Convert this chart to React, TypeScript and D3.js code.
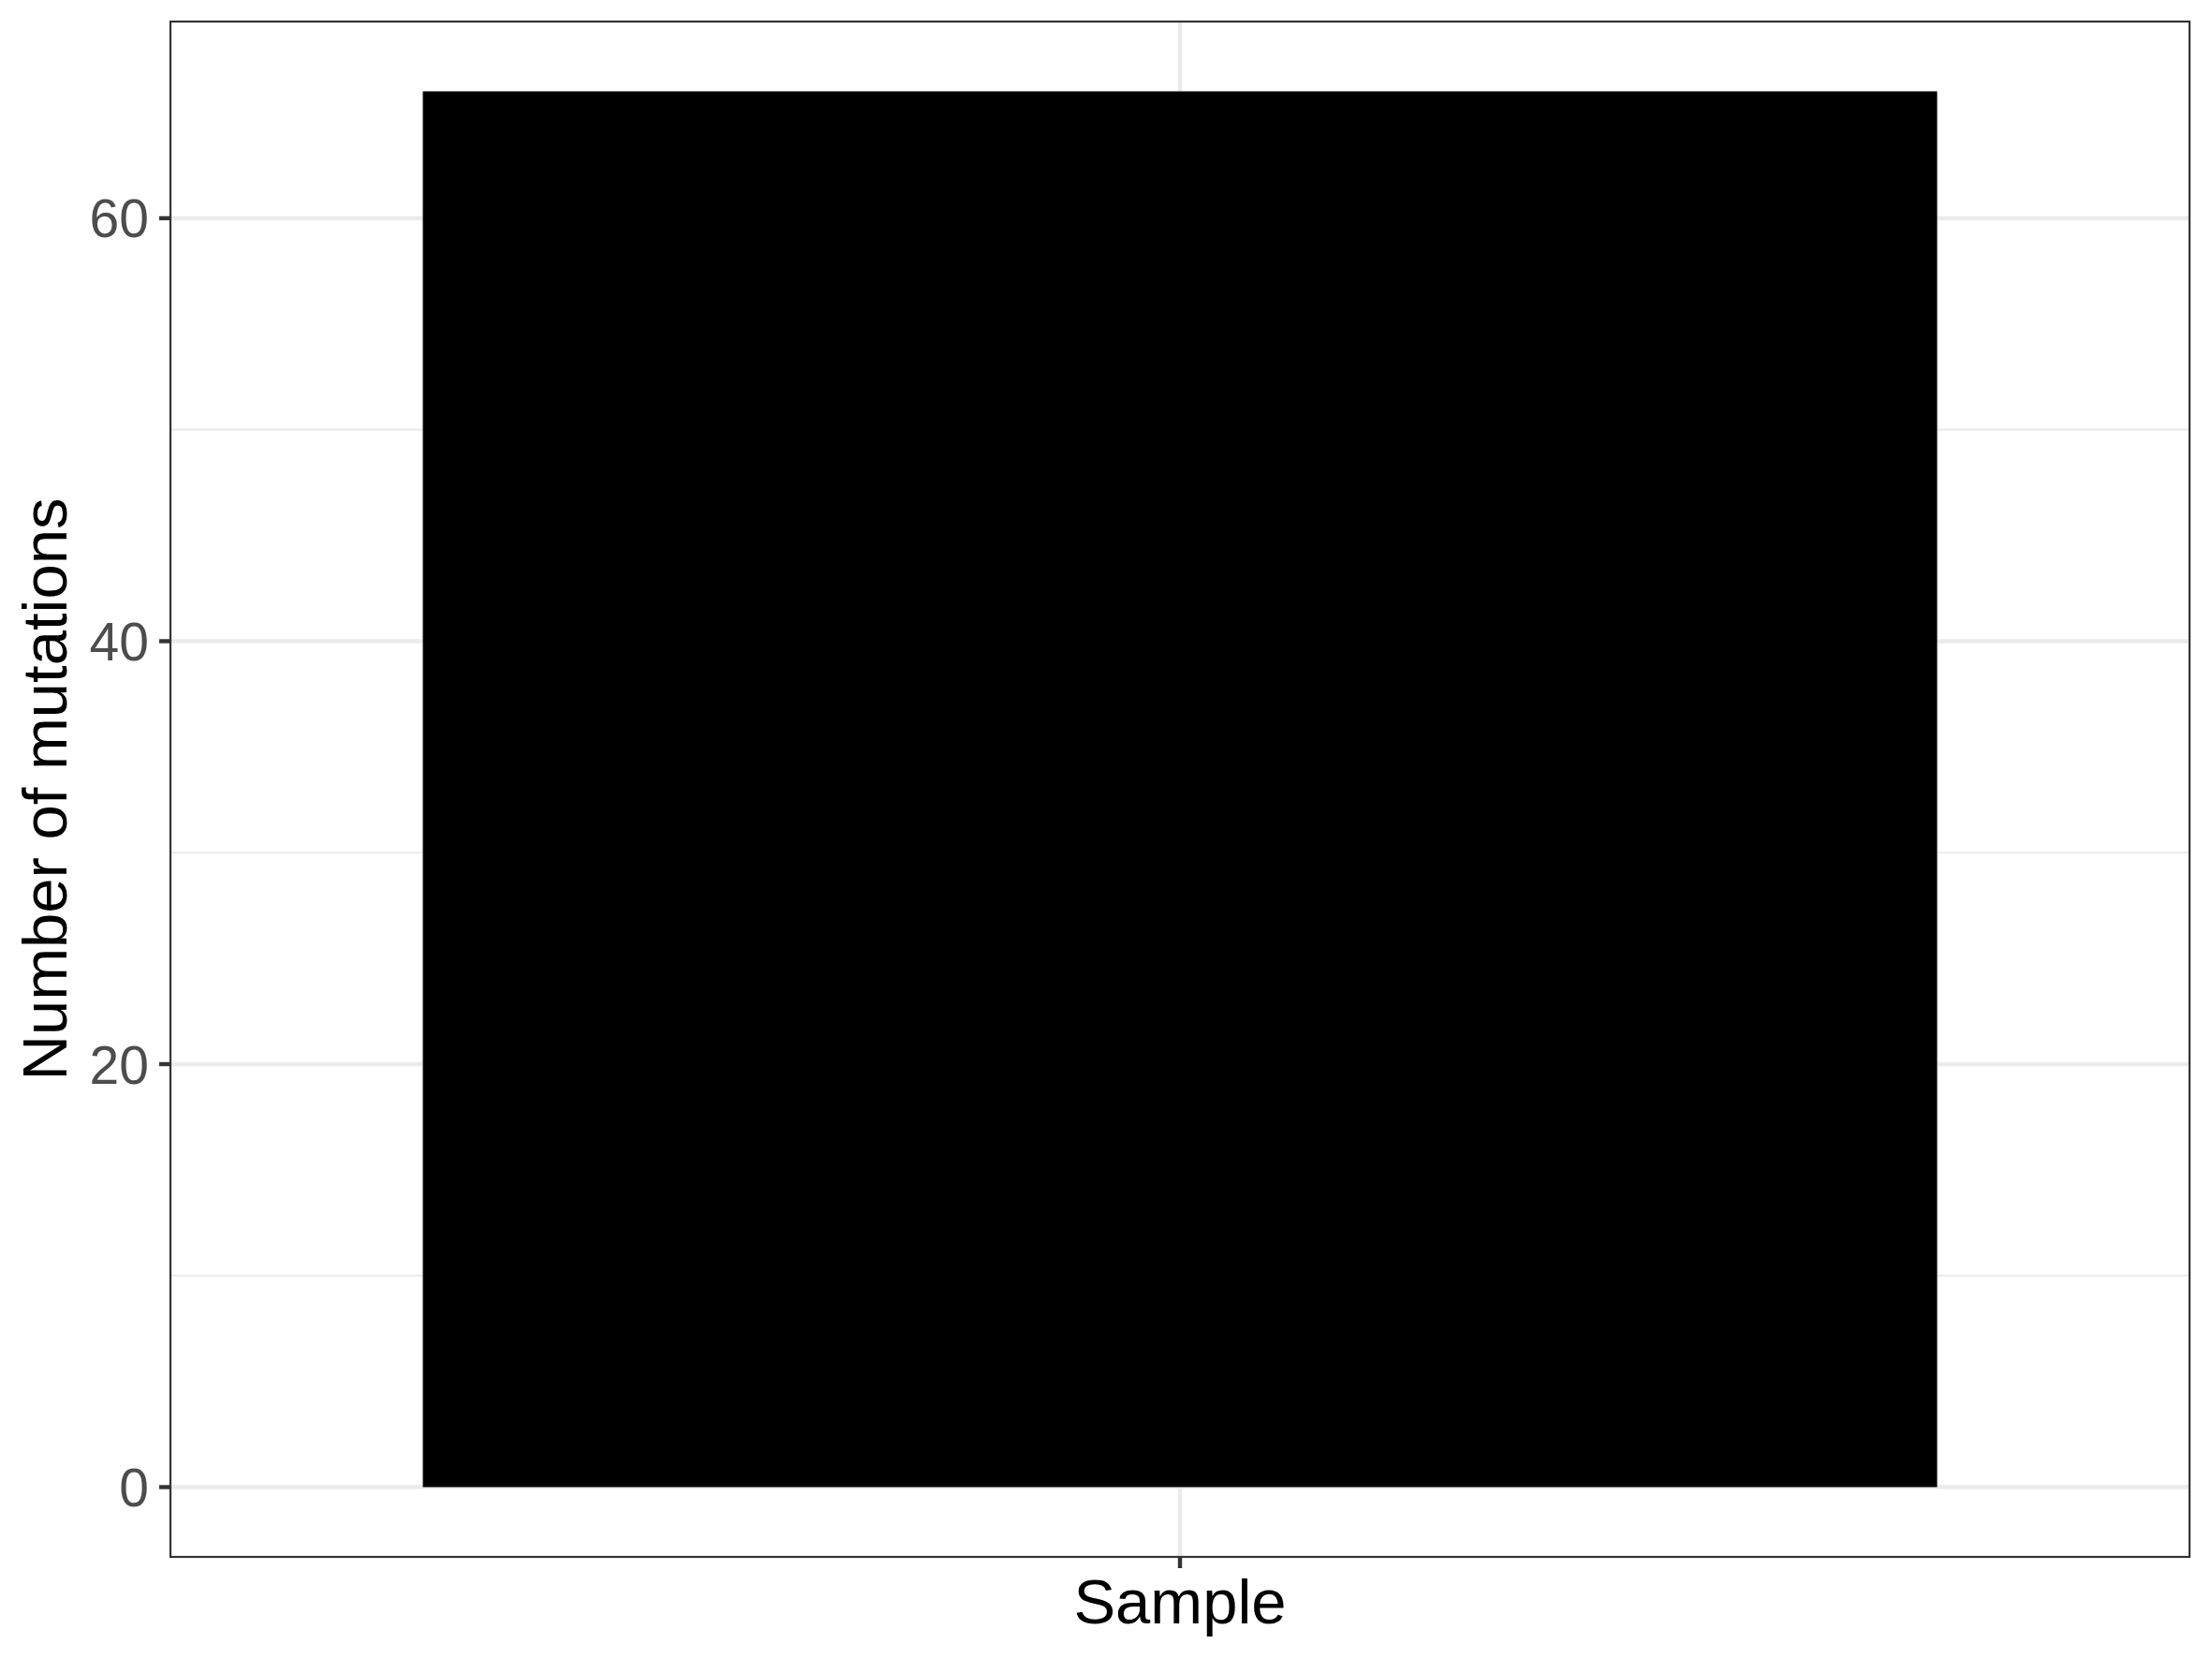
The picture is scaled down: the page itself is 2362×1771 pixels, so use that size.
import React from "react";
import * as d3 from "d3";

const categories: string[] = ["Sample"];
const mutationCounts: number[] = [66];
const yMajorTicks: number[] = [0, 20, 40, 60];
const yMinorTicks: number[] = [10, 30, 50];

const W = 2362;
const H = 1771;
const panel = { left: 182, right: 2338, top: 23, bottom: 1662 };
const FONT = "'Liberation Sans', Arial, Helvetica, sans-serif";

export default function App() {
  const yMax = d3.max(mutationCounts) as number;
  const yPad = yMax * 0.05;
  const y = d3
    .scaleLinear()
    .domain([0 - yPad, yMax + yPad])
    .range([panel.bottom, panel.top]);
  const x = d3
    .scaleLinear()
    .domain([1 - 0.6, categories.length + 0.6])
    .range([panel.left, panel.right]);
  const barHalf = 0.45;

  return (
    <svg
      width={W}
      height={H}
      viewBox={`0 0 ${W} ${H}`}
      style={{ position: "absolute", left: 0, top: 0, background: "#fff" }}
    >
      <rect x={0} y={0} width={W} height={H} fill="#fff" />
      {/* minor grid */}
      {yMinorTicks.map((t) => (
        <line
          key={"mi" + t}
          x1={panel.left}
          x2={panel.right}
          y1={y(t)}
          y2={y(t)}
          stroke="#EBEBEB"
          strokeWidth={2.2}
        />
      ))}
      {/* major grid */}
      {yMajorTicks.map((t) => (
        <line
          key={"ma" + t}
          x1={panel.left}
          x2={panel.right}
          y1={y(t)}
          y2={y(t)}
          stroke="#EBEBEB"
          strokeWidth={4.4}
        />
      ))}
      {categories.map((c, i) => (
        <line
          key={"vx" + c}
          x1={x(i + 1)}
          x2={x(i + 1)}
          y1={panel.top}
          y2={panel.bottom}
          stroke="#EBEBEB"
          strokeWidth={4.4}
        />
      ))}
      {/* bars */}
      {categories.map((c, i) => (
        <rect
          key={"bar" + c}
          x={x(i + 1 - barHalf)}
          width={x(i + 1 + barHalf) - x(i + 1 - barHalf)}
          y={y(mutationCounts[i])}
          height={y(0) - y(mutationCounts[i])}
          fill="#000000"
        />
      ))}
      {/* panel border */}
      <rect
        x={panel.left}
        y={panel.top}
        width={panel.right - panel.left}
        height={panel.bottom - panel.top}
        fill="none"
        stroke="#333333"
        strokeWidth={2.2}
      />
      {/* y ticks */}
      {yMajorTicks.map((t) => (
        <g key={"yt" + t}>
          <line
            x1={panel.left - 12}
            x2={panel.left}
            y1={y(t)}
            y2={y(t)}
            stroke="#333333"
            strokeWidth={4.4}
          />
          <text
            x={panel.left - 23}
            y={y(t)}
            dy="0.36em"
            textAnchor="end"
            fontFamily={FONT}
            fontSize={57}
            fill="#4D4D4D"
          >
            {t}
          </text>
        </g>
      ))}
      {/* x ticks */}
      {categories.map((c, i) => (
        <line
          key={"xt" + c}
          x1={x(i + 1)}
          x2={x(i + 1)}
          y1={panel.bottom}
          y2={panel.bottom + 12}
          stroke="#333333"
          strokeWidth={4.4}
        />
      ))}
      {/* axis titles */}
      <text
        x={x(1)}
        y={1733}
        textAnchor="middle"
        fontFamily={FONT}
        fontSize={67}
        fill="#000000"
      >
        {categories[0]}
      </text>
      <text
        transform={`translate(71, ${(panel.top + panel.bottom) / 2}) rotate(-90)`}
        textAnchor="middle"
        fontFamily={FONT}
        fontSize={67}
        fill="#000000"
      >
        Number of mutations
      </text>
    </svg>
  );
}
